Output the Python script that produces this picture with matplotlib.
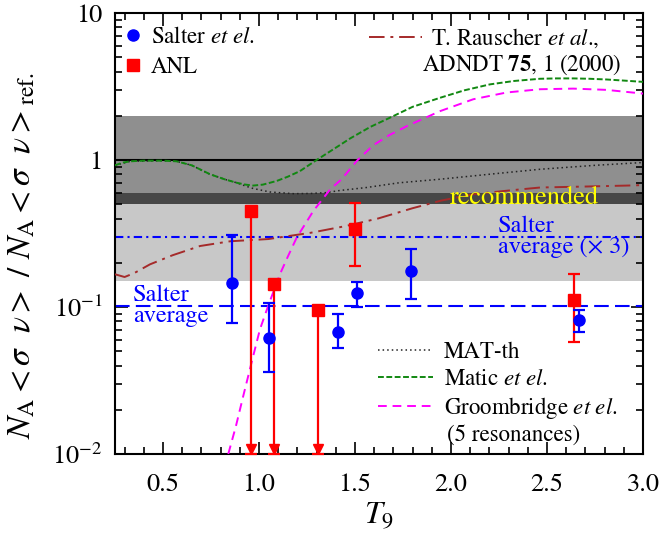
import numpy as np
import matplotlib
matplotlib.use("Agg")
import matplotlib.pyplot as plt
from matplotlib.lines import Line2D
from matplotlib.ticker import FixedLocator, FixedFormatter, LogLocator, NullFormatter, MultipleLocator

plt.rcParams["font.family"] = "STIXGeneral"
plt.rcParams["mathtext.fontset"] = "stix"

# Salter et el. (blue circles)
salter_t = [0.858, 1.052, 1.413, 1.509, 1.792, 2.667]
salter_v = [0.145, 0.062, 0.068, 0.124, 0.176, 0.082]
salter_hi = [0.31, 0.106, 0.089, 0.148, 0.247, 0.096]
salter_lo = [0.078, 0.036, 0.053, 0.100, 0.114, 0.068]

# ANL (red squares): measured points and upper limits
anl_t = [1.50, 2.64]
anl_v = [0.34, 0.112]
anl_hi = [0.51, 0.167]
anl_lo = [0.19, 0.058]
anl_lim_t = [0.957, 1.077, 1.309]
anl_lim_v = [0.45, 0.144, 0.095]

# Matic et el.
matic_t = [0.25, 0.29, 0.33, 0.40, 0.50, 0.57, 0.65, 0.745, 0.82, 0.884, 0.93, 0.97, 1.02,
           1.092, 1.15, 1.213, 1.30, 1.42, 1.474, 1.58, 1.682, 1.80, 1.943, 2.07, 2.203,
           2.33, 2.464, 2.55, 2.637, 2.72, 2.81, 2.90, 3.0]
matic_v = [0.92, 0.96, 0.98, 0.99, 0.99, 0.98, 0.92, 0.80, 0.74, 0.70, 0.68, 0.67, 0.68,
           0.72, 0.77, 0.84, 1.0, 1.26, 1.40, 1.68, 1.94, 2.3, 2.65, 2.98, 3.27,
           3.45, 3.57, 3.59, 3.59, 3.57, 3.53, 3.47, 3.40]

# MAT-th
matth_t = [0.25, 0.33, 0.50, 0.57, 0.65, 0.745, 0.82, 0.884, 0.93, 0.97, 1.057, 1.18, 1.27,
           1.35, 1.42, 1.56, 1.73, 1.943, 2.2, 2.464, 2.75, 2.99]
matth_v = [0.92, 0.98, 0.99, 0.98, 0.92, 0.80, 0.74, 0.70, 0.665, 0.64, 0.606, 0.59, 0.592,
           0.60, 0.62, 0.65, 0.70, 0.74, 0.80, 0.865, 0.92, 0.96]

# Groombridge et el. (5 resonances)
groom_t = [0.84, 0.88, 0.918, 0.97, 1.005, 1.048, 1.109, 1.15, 1.196, 1.283, 1.37, 1.43,
           1.509, 1.595, 1.68, 1.77, 1.943, 2.116, 2.29, 2.464, 2.637, 2.81, 3.0]
groom_v = [0.0100, 0.0155, 0.0248, 0.0465, 0.0705, 0.102, 0.167, 0.22, 0.296, 0.45, 0.63, 0.74,
           0.985, 1.26, 1.48, 1.70, 2.15, 2.59, 2.88, 3.03, 3.06, 3.0, 2.83]

# T. Rauscher et al.
raus_t = [0.25, 0.30, 0.35, 0.432, 0.55, 0.693, 0.85, 1.05, 1.27, 1.45, 1.62, 1.80, 1.95,
          2.116, 2.30, 2.464, 2.70, 2.915, 3.0]
raus_v = [0.167, 0.160, 0.170, 0.195, 0.225, 0.26, 0.28, 0.29, 0.32, 0.355, 0.40, 0.47, 0.53,
          0.585, 0.62, 0.65, 0.66, 0.67, 0.675]

# bands and reference lines
band_light = (0.15, 0.5)
band_dark = (0.5, 0.6)
band_mid = (0.6, 2.0)
salter_avg = 0.102
salter_avg3 = 0.30

fig = plt.figure(figsize=(6.62, 5.33), dpi=100)
ax = fig.add_axes([0.1737, 0.1482, 0.7976, 0.8274])
ax.set_yscale("log")
ax.set_xlim(0.25, 3.0)
ax.set_ylim(0.01, 10)

ax.axhspan(*band_mid, color="#8f8f8f", lw=0, zorder=0)
ax.axhspan(*band_dark, color="#474747", lw=0, zorder=0)
ax.axhspan(*band_light, color="#c8c8c8", lw=0, zorder=0)
ax.axhline(1.0, color="black", lw=1.5, zorder=1)

ax.axhline(salter_avg, color="blue", lw=1.5, ls=(0, (7, 3)), zorder=2)
ax.axhline(salter_avg3, color="blue", lw=1.5, ls=(0, (4, 2, 1, 2)), zorder=2)

l_matth, = ax.plot(matth_t, matth_v, color="#222222", lw=1.1, ls=(0, (1, 2)), zorder=3, label="MAT-th")
l_matic, = ax.plot(matic_t, matic_v, color="#118811", lw=1.4, ls=(0, (3, 1.3)), zorder=3,
                   label=r"Matic $\it{et\ el}$.")
l_groom, = ax.plot(groom_t, groom_v, color="#ff00ff", lw=1.4, ls=(0, (4.5, 3)), zorder=3,
                   label=r"Groombridge $\it{et\ el}$.")
l_raus, = ax.plot(raus_t, raus_v, color="#a52a2a", lw=1.4, ls=(0, (8, 3, 1.5, 3)), zorder=3,
                  label=r"T. Rauscher $\it{et\ al}$.,")

# data points
sv = np.array(salter_v)
ax.errorbar(salter_t, salter_v, yerr=[sv - np.array(salter_lo), np.array(salter_hi) - sv],
            fmt="o", color="blue", ms=8, lw=1.6, capsize=4, capthick=1.6, zorder=6)
av = np.array(anl_v)
ax.errorbar(anl_t, anl_v, yerr=[av - np.array(anl_lo), np.array(anl_hi) - av],
            fmt="s", color="red", ms=8, lw=1.6, capsize=4, capthick=1.6, zorder=5)
lv = np.array(anl_lim_v)
ax.errorbar(anl_lim_t, anl_lim_v, yerr=[lv - 0.01, np.zeros_like(lv)],
            fmt="s", color="red", ms=8, lw=1.6, capsize=4, capthick=1.6, zorder=5, clip_on=False)
ax.plot(anl_lim_t, [0.0108] * 3, "v", color="red", ms=7, zorder=5, clip_on=False)

# texts
ax.text(2.385, 0.555, "recommended", color="yellow", fontsize=19, ha="center", va="center", zorder=7)
ax.text(2.245, salter_avg3, "Salter\naverage (\u00d7 3)", color="blue", fontsize=17.5,
        ha="left", va="center", linespacing=1.0, zorder=7)
ax.text(0.344, salter_avg, "Salter\naverage", color="blue", fontsize=17.5,
        ha="left", va="center", linespacing=1.0, zorder=7)

# legends
h_s = Line2D([], [], marker="o", color="blue", ls="none", ms=8, label=r"Salter $\it{et\ el}$.")
h_a = Line2D([], [], marker="s", color="red", ls="none", ms=8, label="ANL")
leg1 = ax.legend(handles=[h_s, h_a], loc="upper left", bbox_to_anchor=(-0.01, 1.0), frameon=False,
                 fontsize=16.5, handlelength=0.8, handletextpad=0.4, labelspacing=0.35,
                 borderaxespad=0.2)
ax.add_artist(leg1)
leg2 = ax.legend(handles=[l_raus], loc="upper left", bbox_to_anchor=(0.455, 1.0), frameon=False,
                 fontsize=16.5, handlelength=2.3, handletextpad=0.4, borderaxespad=0.2)
ax.add_artist(leg2)
ax.text(0.581, 0.882, r"ADNDT $\mathbf{75}$, 1 (2000)", transform=ax.transAxes,
        fontsize=16.5, ha="left", va="center")
leg3 = ax.legend(handles=[l_matth, l_matic, l_groom], loc="lower left", bbox_to_anchor=(0.48, 0.055),
                 frameon=False, fontsize=16.5, handlelength=2.4, handletextpad=0.5, labelspacing=0.22,
                 borderaxespad=0.0)
ax.text(0.629, 0.043, "(5 resonances)", transform=ax.transAxes, fontsize=16.5, ha="left", va="center")

# axes styling
ax.yaxis.set_major_locator(FixedLocator([0.01, 0.1, 1, 10]))
ax.yaxis.set_major_formatter(FixedFormatter([r"$10^{-2}$", r"$10^{-1}$", "1", "10"]))
ax.yaxis.set_minor_locator(LogLocator(base=10, subs=np.arange(2, 10)))
ax.yaxis.set_minor_formatter(NullFormatter())
ax.xaxis.set_major_locator(MultipleLocator(0.5))
ax.xaxis.set_minor_locator(MultipleLocator(0.1))
ax.xaxis.set_major_formatter(plt.FuncFormatter(lambda v, p: "%.1f" % v))
ax.tick_params(which="both", direction="in", top=True, right=True, width=1.2, labelsize=19)
ax.tick_params(axis="x", pad=14)
ax.tick_params(axis="y", pad=9)
ax.tick_params(which="major", length=9)
ax.tick_params(which="minor", length=5)
for s in ax.spines.values():
    s.set_linewidth(1.5)

ax.set_xlabel(r"$T_9$", fontsize=23)
ax.xaxis.set_label_coords(0.5, -0.105)
ax.set_ylabel(r"$N_{\rm A} < \sigma\ \ \nu >\ /\ N_{\rm A} < \sigma\ \ \nu >_{\rm ref.}$", fontsize=24)
ax.yaxis.set_label_coords(-0.146, 0.45)

fig.savefig("out.png", dpi=100)
